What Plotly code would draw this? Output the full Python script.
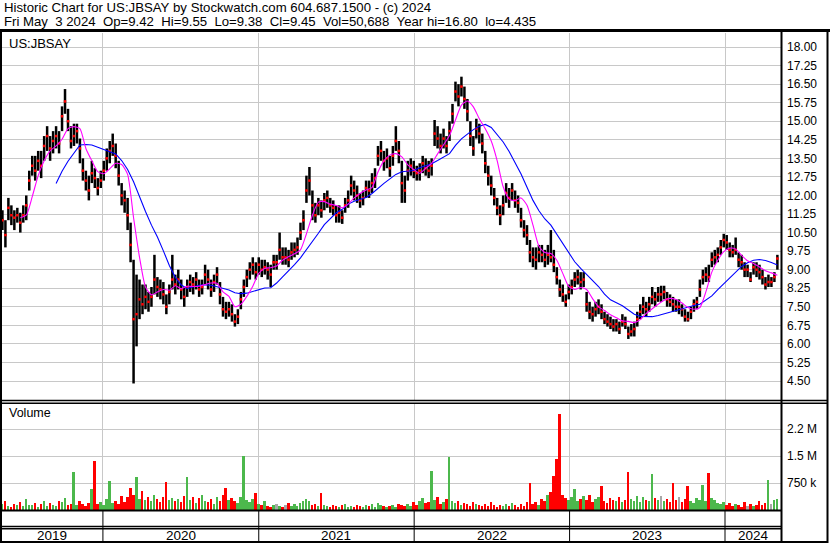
import pandas as pd
import plotly.graph_objects as go

W, H = 830, 543

# ---------------- data (weekly samples) ----------------
week_dates = pd.date_range("2019-05-10", "2024-05-03", freq="7D")

close = [
    11.0, 10.4, 11.5, 11.2, 11.1, 11.2, 10.9, 11.2, 11.6, 12.6,
    13.2, 13.0, 13.4, 13.2, 14.0, 14.4, 13.9, 14.2, 14.4, 14.1,
    15.2, 15.8, 15.0, 14.2, 14.4, 14.6, 13.9, 13.0, 12.6, 12.2,
    12.9, 12.7, 12.3, 12.6, 13.0, 13.5, 13.8, 14.0, 13.6, 12.8,
    12.0, 11.8, 11.2, 10.0, 7.0, 7.2, 7.8, 7.6, 7.9, 7.7,
    7.9, 8.6, 8.3, 8.2, 8.0, 7.5, 8.1, 8.6, 8.4, 8.6,
    8.2, 7.9, 8.3, 8.5, 8.4, 8.6, 8.2, 8.3, 8.8, 8.6,
    8.2, 8.5, 8.8, 8.0, 7.4, 7.3, 7.4, 7.2, 6.9, 7.1,
    7.8, 8.3, 8.7, 9.0, 9.2, 8.9, 9.2, 9.0, 9.1, 9.0,
    8.8, 9.3, 9.3, 9.8, 9.5, 9.5, 9.4, 9.7, 9.8, 9.9,
    10.5, 11.0, 12.2, 12.6, 11.6, 11.2, 11.6, 11.4, 11.8, 11.9,
    11.6, 11.5, 11.2, 11.3, 11.1, 11.6, 11.8, 12.4, 12.2, 12.0,
    11.8, 11.9, 12.3, 12.2, 12.5, 12.7, 13.6, 13.8, 13.4, 13.5,
    13.1, 13.6, 14.2, 13.8, 12.5, 12.2, 13.0, 13.2, 13.0, 12.9,
    13.0, 13.3, 13.1, 13.0, 13.2, 14.5, 14.3, 14.0, 14.3, 14.0,
    14.6, 15.3, 16.2, 16.0, 16.4, 15.9, 15.4, 14.4, 13.9, 14.7,
    14.5, 14.1, 13.3, 12.8, 12.4, 11.9, 11.5, 11.2, 11.6, 12.1,
    11.9, 12.2, 11.8, 11.7, 11.0, 10.6, 10.4, 9.7, 9.5, 9.4,
    9.7, 9.6, 9.4, 9.6, 9.5, 9.2, 8.7, 8.2, 8.0, 7.7,
    8.1, 8.3, 8.6, 8.7, 8.5, 8.6, 7.6, 7.3, 7.2, 7.4,
    7.5, 7.3, 7.0, 6.9, 6.8, 6.7, 6.8, 6.6, 6.9, 6.8,
    6.4, 6.5, 6.6, 7.0, 7.3, 7.5, 7.4, 7.6, 7.9, 7.8,
    8.0, 8.0, 8.1, 7.8, 7.7, 7.6, 7.5, 7.5, 7.4, 7.1,
    7.0, 7.3, 7.6, 7.7, 8.2, 8.7, 8.8, 8.7, 9.4, 9.5,
    9.6, 9.9, 10.2, 10.1, 9.8, 9.7, 9.8, 9.4, 9.3, 9.0,
    9.0, 8.6, 9.1, 9.0, 8.9, 8.7, 8.4, 8.5, 8.5, 8.7,
    9.45,
]

high = [
    11.4, 11.0, 11.9, 11.6, 11.4, 11.5, 11.3, 11.6, 12.0, 13.0,
    13.6, 13.6, 13.8, 13.8, 14.4, 14.8, 14.4, 14.6, 14.8, 14.6,
    15.6, 16.3, 15.5, 14.8, 14.9, 14.9, 14.3, 13.5, 13.0, 12.8,
    13.4, 13.1, 12.7, 13.0, 13.4, 13.9, 14.2, 14.5, 14.1, 13.4,
    12.5, 12.2, 11.9, 10.9, 9.4, 8.8, 8.6, 8.4, 8.4, 8.1,
    8.3, 9.6, 8.7, 8.6, 8.5, 8.0, 8.4, 9.6, 8.8, 9.0,
    8.6, 8.3, 8.6, 8.8, 8.7, 8.9, 8.6, 8.6, 9.2, 9.0,
    8.6, 8.8, 9.1, 8.5, 7.9, 7.7, 7.7, 7.6, 7.2, 7.4,
    8.1, 8.6, 9.0, 9.3, 9.5, 9.3, 9.5, 9.4, 9.4, 9.3,
    9.2, 9.6, 9.6, 10.5, 9.9, 9.9, 9.8, 10.1, 10.1, 10.3,
    10.9, 11.4, 12.8, 13.15, 12.2, 11.7, 11.9, 11.8, 12.1, 12.2,
    11.9, 11.8, 11.6, 11.6, 11.4, 11.9, 12.2, 12.8, 12.6, 12.4,
    12.1, 12.2, 12.6, 12.6, 12.9, 13.1, 14.0, 14.2, 13.8, 13.9,
    13.6, 14.0, 14.8, 14.2, 13.4, 12.8, 13.4, 13.5, 13.4, 13.2,
    13.3, 13.6, 13.5, 13.4, 13.5, 15.05, 14.8, 14.5, 14.7, 14.4,
    15.0, 15.7, 16.6, 16.5, 16.8, 16.4, 15.9, 15.0, 14.4, 15.1,
    14.9, 14.5, 13.8, 13.2, 12.8, 12.3, 11.9, 11.6, 12.0, 12.5,
    12.3, 12.5, 12.2, 12.0, 11.5, 11.0, 10.8, 10.2, 9.9, 9.9,
    10.0, 10.0, 9.8, 10.0, 10.6, 9.8, 9.1, 8.6, 8.4, 8.0,
    8.4, 8.6, 8.9, 9.0, 8.9, 8.9, 8.1, 7.7, 7.5, 7.7,
    7.8, 7.6, 7.3, 7.2, 7.1, 7.0, 7.0, 6.9, 7.2, 7.1,
    6.7, 6.8, 6.9, 7.3, 7.6, 7.9, 7.7, 7.9, 8.3, 8.1,
    8.3, 8.35, 8.35, 8.1, 8.0, 7.9, 7.8, 7.8, 7.6, 7.4,
    7.3, 7.5, 7.8, 7.9, 8.6, 9.0, 9.1, 9.2, 9.7, 9.8,
    9.9, 10.2, 10.45, 10.4, 10.1, 10.0, 10.3, 9.7, 9.6, 9.3,
    9.2, 8.9, 9.3, 9.3, 9.2, 9.0, 8.7, 8.8, 8.7, 8.9,
    9.6,
]

low = [
    10.6, 9.9, 11.0, 10.8, 10.6, 10.9, 10.5, 10.9, 11.0, 12.2,
    12.8, 12.6, 13.0, 12.7, 13.4, 13.8, 13.4, 13.7, 13.9, 13.7,
    14.6, 15.3, 14.6, 13.9, 14.0, 14.1, 13.3, 12.6, 12.2, 11.8,
    12.5, 12.3, 12.0, 12.3, 12.6, 13.0, 13.3, 13.6, 13.1, 12.4,
    11.6, 11.3, 10.6, 9.3, 4.4, 5.9, 7.0, 7.2, 7.4, 7.3,
    7.5, 8.0, 7.9, 7.8, 7.6, 7.2, 7.6, 8.2, 8.0, 8.2,
    7.8, 7.5, 7.9, 8.1, 8.0, 8.2, 7.9, 8.0, 8.4, 8.2,
    7.9, 8.1, 8.4, 7.6, 7.1, 7.0, 7.1, 6.9, 6.7, 6.8,
    7.4, 7.9, 8.3, 8.6, 8.8, 8.6, 8.8, 8.7, 8.8, 8.6,
    8.3, 9.0, 9.0, 9.4, 9.2, 9.2, 9.1, 9.4, 9.5, 9.6,
    10.2, 10.6, 11.7, 12.0, 11.0, 10.9, 11.2, 11.1, 11.4, 11.5,
    11.3, 11.2, 10.9, 10.9, 10.85, 11.3, 11.5, 12.0, 11.8, 11.7,
    11.5, 11.6, 11.9, 11.9, 12.1, 12.3, 13.2, 13.4, 13.0, 13.1,
    12.75, 13.2, 13.8, 13.3, 11.7, 11.7, 12.6, 12.8, 12.7, 12.6,
    12.6, 12.9, 12.8, 12.7, 12.8, 14.0, 13.9, 13.7, 13.9, 13.7,
    14.2, 14.9, 15.8, 15.6, 16.0, 15.5, 15.0, 14.0, 13.6, 14.3,
    14.1, 13.7, 12.9, 12.4, 12.0, 11.6, 11.2, 10.8, 11.2, 11.7,
    11.5, 11.8, 11.5, 11.3, 10.7, 10.3, 10.0, 9.3, 9.1, 9.0,
    9.3, 9.3, 9.1, 9.2, 9.3, 8.9, 8.4, 7.9, 7.7, 7.5,
    7.8, 8.0, 8.3, 8.4, 8.2, 8.3, 7.3, 7.0, 6.9, 7.1,
    7.2, 7.0, 6.8, 6.7, 6.6, 6.5, 6.5, 6.4, 6.7, 6.6,
    6.2, 6.3, 6.3, 6.7, 7.0, 7.2, 7.1, 7.3, 7.6, 7.5,
    7.7, 7.7, 7.8, 7.5, 7.5, 7.3, 7.3, 7.2, 7.1, 6.9,
    6.9, 7.0, 7.3, 7.4, 7.9, 8.4, 8.5, 8.5, 9.1, 9.2,
    9.3, 9.6, 9.9, 9.8, 9.5, 9.5, 9.6, 9.1, 9.0, 8.7,
    8.7, 8.5, 8.8, 8.7, 8.6, 8.4, 8.2, 8.3, 8.3, 8.5,
    9.0,
]

# representative daily volume for each week, in thousands of shares
volume_k = [
    180, 250, 120, 90, 160, 140, 220, 110, 300, 150,
    130, 200, 90, 170, 250, 120, 190, 140, 110, 260,
    210, 330, 150, 180, 1060, 130, 240, 170, 120, 200,
    583, 1370, 160, 220, 140, 300, 815, 190, 250, 170,
    380, 230, 350, 602, 420, 926, 310, 537, 280, 350,
    260, 410, 300, 220, 360, 787, 270, 330, 240, 300,
    210, 390, 926, 280, 350, 190, 320, 410, 260, 230,
    300, 180, 350, 240, 420, 602, 280, 330, 250, 190,
    360, 1510, 270, 220, 310, 463, 180, 150, 240, 120,
    90, 130, 170, 110, 80, 140, 200, 100, 160, 120,
    190, 240, 300, 260, 150, 180, 120, 472, 140, 100,
    90, 150, 110, 70, 130, 170, 90, 120, 80, 150,
    110, 70, 140, 100, 160, 90, 200, 130, 110, 80,
    120, 150, 90, 180, 130, 100, 160, 110, 210, 140,
    250, 320, 190, 230, 1090, 280, 350, 170, 210, 300,
    1480, 240, 190, 260, 150, 200, 170, 120, 230, 160,
    140, 110, 180, 100, 220, 130, 90, 150, 120, 170,
    110, 200, 140, 90, 160, 120, 230, 741, 180, 210,
    150, 300, 260, 410, 509, 935, 1420, 2670, 420, 330,
    280, 360, 583, 240, 310, 380, 270, 420, 230, 300,
    350, 676, 260, 190, 330, 280, 240, 370, 210, 290,
    1050, 310, 260, 400, 230, 350, 290, 250, 1000, 330,
    270, 380, 240, 310, 220, 750, 280, 360, 230, 300,
    676, 250, 190, 320, 270, 695, 240, 1030, 330, 280,
    200, 160, 230, 130, 190, 110, 170, 140, 90, 210,
    120, 180, 100, 150, 250, 130, 200, 843, 170, 280,
    300,
]

# short moving average (magenta), every 2nd week starting at week 6
fast_ma = [
    11.1, 11.2, 11.95, 12.8, 13.4, 13.8, 14.0, 14.27, 14.7, 14.78,
    14.7, 13.9, 13.4, 12.96, 12.88, 13.08, 13.3, 13.25, 12.85, 11.1,
    9.5, 8.3, 7.98, 8.1, 8.2, 8.17, 8.35, 8.23, 8.33, 8.32,
    8.33, 8.4, 8.46, 8.45, 8.1, 7.92, 7.5, 7.6, 7.92, 8.33,
    8.85, 9.05, 9.08, 9.15, 9.38, 9.52, 9.64, 9.8, 10.45, 11.2,
    11.73, 11.75, 11.65, 11.59, 11.5, 11.65, 11.9, 12.08, 12.22, 12.32,
    12.95, 13.4, 13.63, 13.69, 13.56, 13.24, 13.05, 12.9, 13.1, 13.3,
    13.68, 14.05, 14.42, 15.05, 15.65, 15.82, 15.58, 15.1, 14.7, 14.2,
    13.4, 12.35, 11.85, 11.79, 11.9, 11.6, 10.8, 9.95, 9.69, 9.65,
    9.38, 8.85, 8.32, 8.2, 8.28, 8.2, 7.83, 7.5, 7.35, 7.18,
    7.06, 6.93, 6.91, 6.86, 6.98, 7.23, 7.42, 7.6, 7.76, 7.84,
    7.79, 7.65, 7.47, 7.4, 7.47, 8.1, 8.9, 9.38, 9.73, 9.87,
    9.83, 9.58, 9.36, 9.25, 9.11, 8.96, 8.87, 8.77,
]

# long moving average (blue), every 2nd week starting at week 18
slow_ma = [
    12.48, 12.98, 13.38, 13.7, 14.04, 14.06, 14.04, 13.95, 13.85, 13.76,
    13.68, 13.41, 13.05, 12.55, 11.91, 11.35, 10.8, 10.32, 9.76, 9.17,
    8.69, 8.38, 8.24, 8.31, 8.37, 8.39, 8.37, 8.31, 8.24, 8.18,
    8.07, 8.03, 8.05, 8.13, 8.19, 8.26, 8.27, 8.46, 8.71, 8.95,
    9.2, 9.48, 9.8, 10.15, 10.47, 10.82, 11.06, 11.3, 11.44, 11.65,
    11.77, 11.83, 11.92, 12.08, 12.3, 12.49, 12.67, 12.85, 12.96, 12.98,
    13.01, 13.12, 13.19, 13.28, 13.41, 13.55, 13.69, 14.02, 14.29, 14.48,
    14.66, 14.8, 14.87, 14.75, 14.47, 14.16, 13.78, 13.35, 12.87, 12.33,
    11.8, 11.38, 11.05, 10.8, 10.43, 10.01, 9.64, 9.32, 9.05, 8.8,
    8.57, 8.32, 8.01, 7.78, 7.66, 7.54, 7.37, 7.2, 7.11, 7.1,
    7.1, 7.15, 7.22, 7.29, 7.34, 7.43, 7.5, 7.55, 7.6, 7.76,
    7.94, 8.19, 8.43, 8.67, 8.92, 9.13, 9.28, 9.38, 9.41, 9.37,
    9.29, 9.19,
]

price_ticks = [4.50, 5.25, 6.00, 6.75, 7.50, 8.25, 9.00, 9.75, 10.50, 11.25,
               12.00, 12.75, 13.50, 14.25, 15.00, 15.75, 16.50, 17.25, 18.00]
volume_ticks = [750000, 1500000, 2250000]
volume_tick_text = ["750 k", "1.5 M", "2.2 M"]
years = ["2019", "2020", "2021", "2022", "2023", "2024"]
year_starts = ["2020-01-01", "2021-01-01", "2022-01-01", "2023-01-01", "2024-01-01"]

header1 = "Historic Chart for US:JBSAY by Stockwatch.com 604.687.1500 - (c) 2024"
header2 = "Fri May  3 2024  Op=9.42  Hi=9.55  Lo=9.38  Cl=9.45  Vol=50,688  Year hi=16.80  lo=4.435"

n = len(week_dates)
assert len(close) == n and len(high) == n and len(low) == n and len(volume_k) == n, (
    n, len(close), len(high), len(low), len(volume_k))
assert len(fast_ma) == len(week_dates[6::2]), (len(fast_ma), len(week_dates[6::2]))
assert len(slow_ma) == len(week_dates[18::2]), (len(slow_ma), len(week_dates[18::2]))

x_start = pd.Timestamp("2019-05-09")
x_end = pd.Timestamp("2024-05-11 12:00")

# ---------------- figure ----------------
FONT = "Liberation Sans, Arial, Helvetica, sans-serif"
GRID = "#c8c8c8"
RED = "#ff0000"
GREEN = "#4cb84c"
GREY = "#a8a8a8"

def px_x(v):
    return v / W

def px_y(v):
    return 1 - v / H

vol_colors = []
for i, c in enumerate(close):
    prev = close[i - 1] if i else c - 1
    vol_colors.append(RED if c < prev else (GREEN if c > prev else GREY))

# high-low range segments, one per week (None breaks the line between weeks)
seg_x, seg_y = [], []
for d, h, l in zip(week_dates, high, low):
    seg_x += [d, d, None]
    seg_y += [l, h, None]

fig = go.Figure()

fig.add_trace(go.Scatter(
    x=seg_x, y=seg_y, mode="lines", connectgaps=False,
    line=dict(color="black", width=2.5),
    xaxis="x", yaxis="y", hoverinfo="skip", showlegend=False))
fig.add_trace(go.Scatter(
    x=week_dates, y=close, mode="markers",
    marker=dict(symbol="square", size=2.5, color=RED, line=dict(width=0)),
    xaxis="x", yaxis="y", hoverinfo="skip", showlegend=False))
fig.add_trace(go.Scatter(
    x=week_dates[18::2], y=slow_ma, mode="lines",
    line=dict(color="#0000ff", width=1.1),
    xaxis="x", yaxis="y", hoverinfo="skip", showlegend=False))
fig.add_trace(go.Scatter(
    x=week_dates[6::2], y=fast_ma, mode="lines",
    line=dict(color="#ff00ff", width=1.1, shape="spline", smoothing=0.6),
    xaxis="x", yaxis="y", hoverinfo="skip", showlegend=False))

DAY_MS = 24 * 3600 * 1000
fig.add_trace(go.Bar(
    x=week_dates, y=[v * 1000 for v in volume_k],
    width=4.6 * DAY_MS,
    marker=dict(color=vol_colors, line=dict(width=0)),
    xaxis="x2", yaxis="y2", hoverinfo="skip", showlegend=False))

common_x = dict(
    range=[x_start, x_end], type="date",
    tickvals=year_starts, showticklabels=False, ticks="",
    showgrid=True, gridcolor=GRID, gridwidth=1,
    zeroline=False, showline=False, fixedrange=True,
)
fig.update_layout(
    width=W, height=H,
    margin=dict(l=0, r=0, t=0, b=0),
    paper_bgcolor="white", plot_bgcolor="white",
    bargap=0, barmode="overlay",
    font=dict(family=FONT, size=12, color="black"),
    xaxis=dict(domain=[px_x(2), px_x(781)], anchor="y", **common_x),
    xaxis2=dict(domain=[px_x(2), px_x(781)], anchor="y2", matches="x", **common_x),
    yaxis=dict(
        domain=[px_y(400), px_y(33)], range=[3.732, 18.566],
        side="right", tickvals=price_ticks, tickformat=".2f",
        ticks="", ticklabelstandoff=5, showgrid=True, gridcolor=GRID, gridwidth=1,
        zeroline=False, showline=False, fixedrange=True,
        tickfont=dict(family=FONT, size=12, color="black"),
    ),
    yaxis2=dict(
        domain=[px_y(510), px_y(404)], range=[0, 106 * 27780],
        side="right", tickvals=volume_ticks, ticktext=volume_tick_text,
        ticks="", ticklabelstandoff=5, showgrid=True, gridcolor=GRID, gridwidth=1,
        zeroline=False, showline=False, fixedrange=True,
        tickfont=dict(family=FONT, size=12, color="black"),
    ),
)

shapes = []

def hline(y, x0, x1, w):
    shapes.append(dict(type="line", xref="paper", yref="paper",
                       x0=px_x(x0), x1=px_x(x1), y0=px_y(y), y1=px_y(y),
                       line=dict(color="black", width=w), layer="above"))

def vline(x, y0, y1, w):
    shapes.append(dict(type="line", xref="paper", yref="paper",
                       x0=px_x(x), x1=px_x(x), y0=px_y(y0), y1=px_y(y1),
                       line=dict(color="black", width=w), layer="above"))

hline(30.5, 0, 830, 3)          # under the header
vline(1, 30, 543, 2)            # left frame
vline(781.5, 30, 543, 2)        # right edge of the plotting area
vline(827.5, 30, 543, 2)        # outer right frame
hline(400.5, 0, 828, 1.5)       # price / volume double rule
hline(403.2, 0, 828, 1.5)
hline(510.5, 0, 782, 2)         # bottom of volume panel
hline(526.5, 0, 782, 1.5)       # double rule above year row
hline(528.8, 0, 782, 1.5)
hline(542, 0, 828, 2)           # bottom frame

for ys in year_starts:
    shapes.append(dict(type="line", xref="x", yref="paper",
                       x0=ys, x1=ys, y0=px_y(511), y1=px_y(542),
                       line=dict(color="black", width=1), layer="above"))

annotations = [
    dict(text=header1.replace(" ", "\u00a0"), x=px_x(2), y=px_y(8), xref="paper", yref="paper",
         xanchor="left", yanchor="middle", showarrow=False,
         font=dict(family=FONT, size=13.2, color="black")),
    dict(text=header2.replace(" ", "\u00a0"), x=px_x(2), y=px_y(21),
         xref="paper", yref="paper", xanchor="left", yanchor="middle",
         showarrow=False, font=dict(family=FONT, size=13.2, color="black")),
    dict(text="US:JBSAY", x=px_x(7), y=px_y(43), xref="paper", yref="paper",
         xanchor="left", yanchor="middle", showarrow=False,
         font=dict(family=FONT, size=13, color="black")),
    dict(text="Volume", x=px_x(7), y=px_y(413), xref="paper", yref="paper",
         xanchor="left", yanchor="middle", showarrow=False,
         font=dict(family=FONT, size=12.5, color="black")),
]

bounds = [x_start] + [pd.Timestamp(s) for s in year_starts] + [x_end]
for label, a, b in zip(years, bounds[:-1], bounds[1:]):
    mid = a + (b - a) / 2
    annotations.append(dict(text=label, x=mid, y=px_y(535.5), xref="x", yref="paper",
                            xanchor="center", yanchor="middle", showarrow=False,
                            font=dict(family=FONT, size=13.5, color="black")))

fig.update_layout(shapes=shapes, annotations=annotations)
fig.write_html("out.html", config={"displayModeBar": False},
               post_script="document.body.style.margin='0px';")
